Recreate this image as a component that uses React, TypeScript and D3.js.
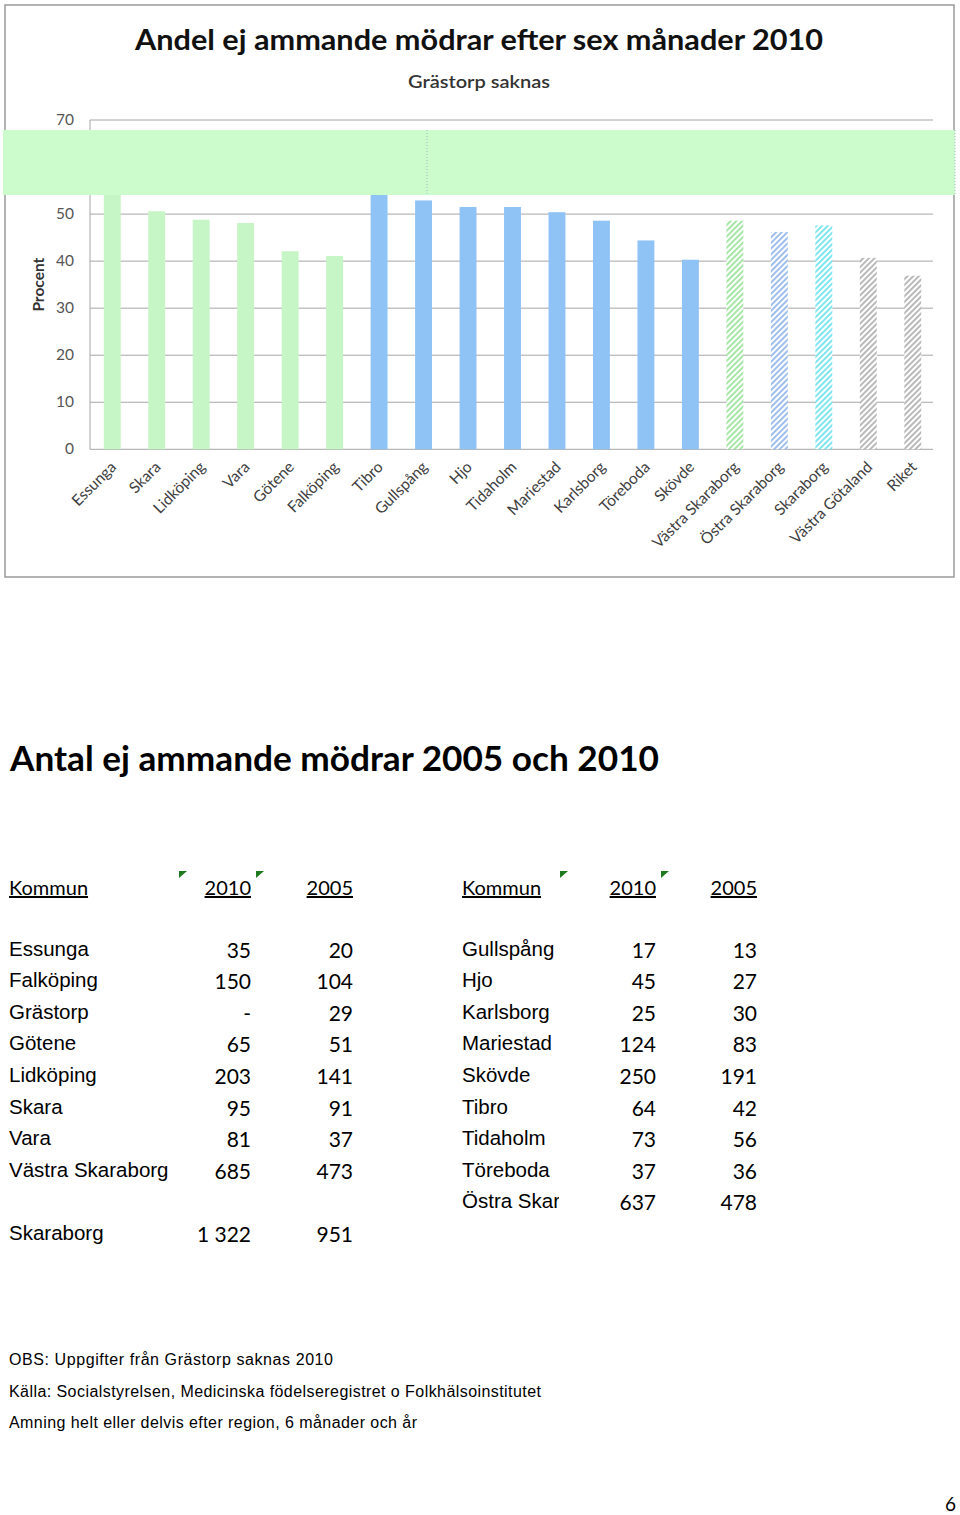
import React from 'react';
import * as d3 from 'd3';

// Bar chart data (procent ej ammande efter sex månader 2010)
const categories = [
  'Essunga', 'Skara', 'Lidköping', 'Vara', 'Götene', 'Falköping',
  'Tibro', 'Gullspång', 'Hjo', 'Tidaholm', 'Mariestad', 'Karlsborg', 'Töreboda', 'Skövde',
  'Västra Skaraborg', 'Östra Skaraborg', 'Skaraborg', 'Västra Götaland', 'Riket',
];
const percent = [
  56, 50.6, 48.8, 48.1, 42.1, 41.1,
  55, 52.9, 51.5, 51.5, 50.4, 48.6, 44.4, 40.3,
  48.6, 46.2, 47.6, 40.7, 36.9,
];
const barStyle = [
  'green', 'green', 'green', 'green', 'green', 'green',
  'blue', 'blue', 'blue', 'blue', 'blue', 'blue', 'blue', 'blue',
  'hGreen', 'hBlue', 'hCyan', 'hGray', 'hGray',
];
const yTicks = [0, 10, 20, 30, 40, 50, 60, 70];

// Table data
const leftNames = ['Essunga', 'Falköping', 'Grästorp', 'Götene', 'Lidköping', 'Skara', 'Vara', 'Västra Skaraborg'];
const left2010 = ['35', '150', '-', '65', '203', '95', '81', '685'];
const left2005 = ['20', '104', '29', '51', '141', '91', '37', '473'];
const totalName = 'Skaraborg';
const total2010 = '1 322';
const total2005 = '951';

const rightNames = ['Gullspång', 'Hjo', 'Karlsborg', 'Mariestad', 'Skövde', 'Tibro', 'Tidaholm', 'Töreboda', 'Östra Skaraborg'];
const right2010 = ['17', '45', '25', '124', '250', '64', '73', '37', '637'];
const right2005 = ['13', '27', '30', '83', '191', '42', '56', '36', '478'];

const footnotes = [
  'OBS: Uppgifter från Grästorp saknas 2010',
  'Källa: Socialstyrelsen, Medicinska födelseregistret o Folkhälsoinstitutet',
  'Amning helt eller delvis efter region, 6 månader och år',
];
const footnoteWidths = [324, 532, 408];

const fills: Record<string, string> = {
  green: '#c6f5c6',
  blue: '#8fc2f5',
  hGreen: 'url(#hatchGreen)',
  hBlue: 'url(#hatchBlue)',
  hCyan: 'url(#hatchCyan)',
  hGray: 'url(#hatchGray)',
};

const calibri = 'Lato, "Open Sans", sans-serif';
const arial = '"Liberation Sans", Arial, sans-serif';

const App: React.FC = () => {
  const x = d3.scaleBand<string>()
    .domain(categories)
    .range([90, 935])
    .paddingInner(0.62)
    .paddingOuter(0.31);
  const y = d3.scaleLinear().domain([0, 70]).range([449.3, 120]);

  const row = d3.scaleLinear().domain([0, 1]).range([955.5, 987.1]);

  const hatch = (id: string, color: string) => (
    <pattern id={id} width={4} height={4} patternUnits="userSpaceOnUse" patternTransform="rotate(45)">
      <rect width={4} height={4} fill="#fff" />
      <line x1={1} y1={0} x2={1} y2={4} stroke={color} strokeWidth={1.6} />
    </pattern>
  );

  const marker = (mx: number) => (
    <polygon key={mx} points={`${mx},871 ${mx + 8},871 ${mx},878`} fill="#1f7a1f" />
  );

  return (
    <svg width={960} height={1515} style={{ position: 'absolute', left: 0, top: 0, background: '#fff' }}>
      <defs>
        {hatch('hatchGreen', '#8fe08f')}
        {hatch('hatchBlue', '#86aee6')}
        {hatch('hatchCyan', '#5ee0ea')}
        {hatch('hatchGray', '#a8a8a8')}
        <clipPath id="clipOstra">
          <rect x={455} y={1180} width={104} height={40} />
        </clipPath>
      </defs>

      {/* chart frame */}
      <rect x={5} y={5} width={949} height={572} fill="#fff" stroke="#9a9a9a" strokeWidth={1.5} />

      <text x={479} y={50} textAnchor="middle" fontFamily={calibri} fontWeight="bold" fontSize={29}
        textLength={688} lengthAdjust="spacingAndGlyphs" fill="#111">
        Andel ej ammande mödrar efter sex månader 2010
      </text>
      <text x={479} y={88} textAnchor="middle" fontFamily={calibri} fontWeight={600} fontSize={17}
        textLength={142} lengthAdjust="spacingAndGlyphs" fill="#333">
        Grästorp saknas
      </text>

      {/* gridlines + y ticks */}
      {yTicks.map(t => (
        <g key={t}>
          <line x1={90} x2={933} y1={y(t)} y2={y(t)} stroke="#a6a6a6" strokeWidth={1} />
          <text x={74} y={y(t) + 5} textAnchor="end" fontFamily={calibri} fontSize={15.5} fill="#555">{t}</text>
        </g>
      ))}
      <line x1={90} x2={90} y1={y(70)} y2={y(0)} stroke="#a6a6a6" strokeWidth={1} />
      <text transform={`translate(44,${y(35)}) rotate(-90)`} textAnchor="middle" fontFamily={calibri}
        fontWeight="bold" fontSize={15.5} fill="#333">Procent</text>

      {/* bars */}
      {categories.map((c, i) => (
        <rect key={c} x={x(c)} y={y(percent[i])} width={x.bandwidth()} height={y(0) - y(percent[i])}
          fill={fills[barStyle[i]]} />
      ))}

      {/* x labels */}
      {categories.map(c => {
        const cx = (x(c) as number) + x.bandwidth() / 2 + 5;
        return (
          <text key={c} transform={`translate(${cx},468) rotate(-45)`} textAnchor="end"
            fontFamily={calibri} fontSize={15.5} fill="#404040">{c}</text>
        );
      })}

      {/* green highlight band over the chart */}
      <rect x={3} y={130} width={952} height={65} fill="#ccfccc" />
      <line x1={427} x2={427} y1={130} y2={195} stroke="#9fb8c8" strokeDasharray="1,2" />
      <line x1={955} x2={955} y1={130} y2={195} stroke="#9fb8c8" strokeDasharray="1,2" />

      {/* heading */}
      <text x={10} y={771} fontFamily={calibri} fontWeight="bold" fontSize={34}
        textLength={649} lengthAdjust="spacingAndGlyphs" fill="#000">
        Antal ej ammande mödrar 2005 och 2010
      </text>

      {/* table headers */}
      <g fontFamily={calibri} fontSize={20} fill="#000">
        <text x={9} y={895} textDecoration="underline">Kommun</text>
        <text x={251} y={895} textAnchor="end" textDecoration="underline">2010</text>
        <text x={353} y={895} textAnchor="end" textDecoration="underline">2005</text>
        <text x={462} y={895} textDecoration="underline">Kommun</text>
        <text x={656} y={895} textAnchor="end" textDecoration="underline">2010</text>
        <text x={757} y={895} textAnchor="end" textDecoration="underline">2005</text>
      </g>
      {[179, 256, 560, 661].map(marker)}

      {/* left table */}
      {leftNames.map((n, i) => (
        <g key={n}>
          <text x={9} y={row(i)} fontFamily={arial} fontSize={20.5} fill="#000">{n}</text>
          <text x={251} y={row(i) + 2} textAnchor="end" fontFamily={calibri} fontSize={21} fill="#000">{left2010[i]}</text>
          <text x={353} y={row(i) + 2} textAnchor="end" fontFamily={calibri} fontSize={21} fill="#000">{left2005[i]}</text>
        </g>
      ))}
      <text x={9} y={row(9)} fontFamily={arial} fontSize={20.5} fill="#000">{totalName}</text>
      <text x={251} y={row(9) + 2} textAnchor="end" fontFamily={calibri} fontSize={21} fill="#000">{total2010}</text>
      <text x={353} y={row(9) + 2} textAnchor="end" fontFamily={calibri} fontSize={21} fill="#000">{total2005}</text>

      {/* right table */}
      {rightNames.map((n, i) => (
        <g key={n}>
          <text x={462} y={row(i)} fontFamily={arial} fontSize={20.5} fill="#000"
            clipPath={i === rightNames.length - 1 ? 'url(#clipOstra)' : undefined}>{n}</text>
          <text x={656} y={row(i) + 2} textAnchor="end" fontFamily={calibri} fontSize={21} fill="#000">{right2010[i]}</text>
          <text x={757} y={row(i) + 2} textAnchor="end" fontFamily={calibri} fontSize={21} fill="#000">{right2005[i]}</text>
        </g>
      ))}

      {/* footnotes */}
      {footnotes.map((f, i) => (
        <text key={f} x={9} y={1365 + i * 31.5} fontFamily={arial} fontSize={16} fill="#000"
          textLength={footnoteWidths[i]} lengthAdjust="spacing">{f}</text>
      ))}

      <text x={956} y={1511} textAnchor="end" fontFamily={calibri} fontSize={19} fill="#000">6</text>
    </svg>
  );
};

export default App;
